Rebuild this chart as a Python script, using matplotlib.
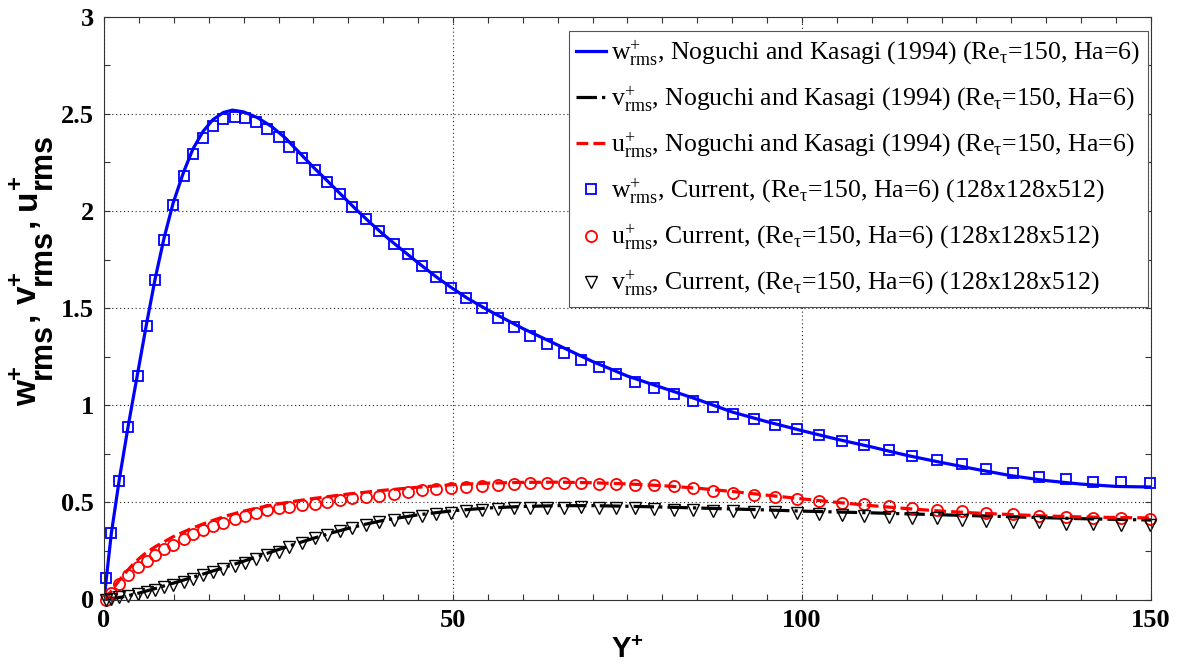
import matplotlib
matplotlib.use('Agg')
import matplotlib.pyplot as plt
from matplotlib.ticker import FixedLocator, MultipleLocator
from matplotlib.font_manager import FontProperties

plt.rcParams['mathtext.fontset'] = 'custom'
plt.rcParams['mathtext.rm'] = 'Liberation Serif'
plt.rcParams['mathtext.it'] = 'Liberation Serif:italic'
plt.rcParams['mathtext.bf'] = 'Liberation Serif:bold'

# ---------------- Noguchi and Kasagi (1994) reference profiles ----------------
nk_w_y = [0, 1.05, 2.2, 3.5, 4.8, 6.1, 7.35, 8.6, 9.9, 11.4, 12.75, 14.2, 15.6, 17.1,
          18.4, 20, 22, 24, 26, 28, 30, 32, 34, 36, 38, 40, 42, 44, 46, 48, 50, 52,
          55, 60, 65, 70, 75, 80, 85, 90, 95, 100, 105, 110, 115, 120, 125, 130,
          135, 140, 145, 150]
nk_w = [0, 0.34, 0.62, 0.90, 1.16, 1.42, 1.655, 1.86, 2.04, 2.20, 2.32, 2.41, 2.47,
        2.507, 2.519, 2.51, 2.48, 2.435, 2.375, 2.30, 2.225, 2.155, 2.083, 2.012,
        1.944, 1.88, 1.82, 1.762, 1.705, 1.65, 1.60, 1.552, 1.49, 1.395, 1.31,
        1.225, 1.15, 1.09, 1.03, 0.965, 0.915, 0.869, 0.825, 0.785, 0.742, 0.705,
        0.67, 0.637, 0.612, 0.594, 0.582, 0.579]

nk_v_y = [0, 2.5, 5, 7.5, 10, 12.5, 15, 17.5, 20, 22.5, 25, 27.5, 30, 32.5, 35, 37.5,
          40, 45, 50, 55, 60, 65, 70, 75, 80, 85, 90, 95, 100, 110, 120, 130, 140, 150]
nk_v = [0, 0.012, 0.033, 0.058, 0.085, 0.112, 0.14, 0.168, 0.197, 0.227, 0.257,
        0.287, 0.315, 0.342, 0.366, 0.388, 0.407, 0.436, 0.457, 0.471, 0.479, 0.483,
        0.483, 0.480, 0.476, 0.471, 0.466, 0.461, 0.455, 0.446, 0.436, 0.426, 0.416,
        0.409]

nk_u_y = [0, 1, 2, 3, 4, 5, 6, 7.5, 10, 12.5, 15, 17.5, 20, 22.5, 25, 27.5, 30, 35,
          40, 45, 50, 55, 60, 65, 70, 75, 80, 85, 90, 95, 100, 105, 110, 115, 120,
          125, 130, 135, 140, 145, 150]
nk_u = [0, 0.04, 0.09, 0.135, 0.175, 0.21, 0.24, 0.275, 0.325, 0.365, 0.40, 0.43,
        0.455, 0.475, 0.492, 0.507, 0.52, 0.543, 0.562, 0.578, 0.591, 0.599, 0.603,
        0.604, 0.601, 0.595, 0.586, 0.573, 0.556, 0.537, 0.518, 0.50, 0.483, 0.468,
        0.455, 0.445, 0.437, 0.43, 0.425, 0.422, 0.42]

# ---------------- Current simulation (128x128x512) ----------------
cur_y = [0.25, 1.05, 2.2, 3.5, 4.8, 6.1, 7.35, 8.6, 9.9, 11.4, 12.75, 14.2, 15.6, 17.1,
         18.7, 20.2, 21.8, 23.4, 25.0, 26.5, 28.4, 30.2, 32.0, 33.8, 35.6, 37.5, 39.4,
         41.5, 43.5, 45.5, 47.6, 49.7, 51.9, 54.1, 56.4, 58.7, 61.0, 63.4, 65.9, 68.3,
         70.9, 73.4, 76.1, 78.8, 81.6, 84.4, 87.2, 90.1, 93.1, 96.2, 99.3, 102.4,
         105.7, 108.9, 112.4, 115.8, 119.3, 122.9, 126.4, 130.2, 133.9, 137.8, 141.7,
         145.7, 149.9]
cur_w = [0.11, 0.34, 0.61, 0.887, 1.153, 1.408, 1.646, 1.852, 2.030, 2.181, 2.295,
         2.377, 2.439, 2.472, 2.486, 2.477, 2.457, 2.422, 2.380, 2.331, 2.271, 2.212,
         2.151, 2.086, 2.022, 1.957, 1.896, 1.832, 1.776, 1.717, 1.658, 1.604, 1.550,
         1.498, 1.449, 1.401, 1.356, 1.315, 1.269, 1.233, 1.197, 1.159, 1.122, 1.087,
         1.057, 1.022, 0.993, 0.957, 0.927, 0.900, 0.876, 0.847, 0.818, 0.793, 0.769,
         0.738, 0.719, 0.696, 0.673, 0.653, 0.633, 0.619, 0.605, 0.604, 0.600]
cur_u = [0.0, 0.035, 0.08, 0.125, 0.165, 0.20, 0.23, 0.258, 0.283, 0.31, 0.335, 0.357,
         0.377, 0.396, 0.415, 0.432, 0.447, 0.46, 0.47, 0.475, 0.485, 0.494, 0.503,
         0.512, 0.522, 0.528, 0.535, 0.545, 0.552, 0.563, 0.569, 0.572, 0.580, 0.586,
         0.591, 0.597, 0.598, 0.600, 0.599, 0.598, 0.597, 0.593, 0.590, 0.587, 0.582,
         0.573, 0.557, 0.548, 0.540, 0.529, 0.518, 0.508, 0.499, 0.490, 0.480, 0.470,
         0.461, 0.454, 0.447, 0.440, 0.432, 0.426, 0.422, 0.417, 0.412]
cur_v = [0.0, 0.005, 0.012, 0.02, 0.03, 0.04, 0.05, 0.062, 0.075, 0.092, 0.105, 0.125,
         0.143, 0.158, 0.172, 0.19, 0.209, 0.227, 0.245, 0.27, 0.292, 0.315, 0.334,
         0.353, 0.370, 0.384, 0.398, 0.410, 0.421, 0.432, 0.439, 0.444, 0.456, 0.462,
         0.466, 0.469, 0.473, 0.473, 0.473, 0.476, 0.473, 0.469, 0.469, 0.466, 0.462,
         0.459, 0.457, 0.457, 0.452, 0.448, 0.445, 0.442, 0.435, 0.431, 0.423, 0.421,
         0.418, 0.411, 0.404, 0.400, 0.397, 0.390, 0.387, 0.383, 0.383]

x_ticks = [0, 50, 100, 150]
x_ticklabels = ['0', '50', '100', '150']
y_ticks = [0, 0.5, 1, 1.5, 2, 2.5, 3]
y_ticklabels = ['0', '0.5', '1', '1.5', '2', '2.5', '3']

labels = [
    r'$\mathregular{w^{+}_{rms}}$, Noguchi and Kasagi (1994) (Re$_{\mathregular{\tau}}$=150, Ha=6)',
    r'$\mathregular{v^{+}_{rms}}$, Noguchi and Kasagi (1994) (Re$_{\mathregular{\tau}}$=150, Ha=6)',
    r'$\mathregular{u^{+}_{rms}}$, Noguchi and Kasagi (1994) (Re$_{\mathregular{\tau}}$=150, Ha=6)',
    r'$\mathregular{w^{+}_{rms}}$, Current, (Re$_{\mathregular{\tau}}$=150, Ha=6) (128x128x512)',
    r'$\mathregular{u^{+}_{rms}}$, Current, (Re$_{\mathregular{\tau}}$=150, Ha=6) (128x128x512)',
    r'$\mathregular{v^{+}_{rms}}$, Current, (Re$_{\mathregular{\tau}}$=150, Ha=6) (128x128x512)',
]
ylabel_letters = ['w', 'v', 'u']
ylabel_sup = '+'
ylabel_sub = 'rms'

W, H = 1180, 670
fig = plt.figure(figsize=(W / 100, H / 100), dpi=100)
ax = fig.add_axes([104 / W, 1 - 599.5 / H, (1151 - 104) / W, (599.5 - 16.7) / H])

lw = 2.3
ax.plot(nk_w_y, nk_w, '-', color='#0000ff', lw=lw, label=labels[0])
ax.plot(nk_v_y, nk_v, '-.', color='k', lw=lw, label=labels[1])
ax.plot(nk_u_y, nk_u, '--', color='#ff0000', lw=lw, label=labels[2])
ax.plot(cur_y, cur_w, 's', mfc='none', mec='#0000ff', ms=7, mew=1.3, clip_on=False,
        label=labels[3])
ax.plot(cur_y, cur_u, 'o', mfc='none', mec='#ff0000', ms=8, mew=1.3, clip_on=False,
        label=labels[4])
ax.plot(cur_y, cur_v, 'v', mfc='none', mec='k', ms=8, mew=1.0, clip_on=False,
        label=labels[5])

ax.set_xlim(0, 150)
ax.set_ylim(0, 3)
ax.xaxis.set_major_locator(FixedLocator(x_ticks))
ax.yaxis.set_major_locator(FixedLocator(y_ticks))
ax.set_xticklabels(x_ticklabels)
ax.set_yticklabels(y_ticklabels)
ax.xaxis.set_minor_locator(MultipleLocator(5))
ax.yaxis.set_minor_locator(MultipleLocator(0.25))
ax.tick_params(which='both', direction='in', top=True, right=True, length=4,
               width=0.8, color='#333333')
ax.tick_params(which='major', pad=7)
for lab in ax.get_xticklabels() + ax.get_yticklabels():
    lab.set_fontfamily('Liberation Serif')
    lab.set_fontweight('bold')
    lab.set_fontsize(19)
for s in ax.spines.values():
    s.set_color('#333333')
    s.set_linewidth(0.8)

ax.grid(True, which='major', linestyle=(0, (1, 2.5)), color='#222222', lw=0.8)
ax.set_axisbelow(True)

ax.set_xlabel(r'Y$^{\mathregular{+}}$', fontfamily='Liberation Sans', fontweight='bold',
              fontsize=21, labelpad=3)

# ---- y label built from pieces so that the "rms" subscript keeps a large size ----
renderer = fig.canvas.get_renderer()
F_main, F_sub, F_sup = 24, 22, 17


def fp(size):
    return FontProperties(family='Liberation Sans', weight='bold', size=size)


def text_w(s, size):
    w, h, d = renderer.get_text_width_height_descent(s, fp(size), ismath=False)
    return w


def put(s, x_px, y_px, size):
    fig.text(x_px / W, 1 - y_px / H, s, rotation=90, rotation_mode='anchor',
             ha='left', va='baseline', fontproperties=fp(size), color='k')


x_main, x_sub, x_sup = 36, 51, 22
y_cur = 406
for i, letter in enumerate(ylabel_letters):
    put(letter, x_main, y_cur, F_main)
    y_cur -= text_w(letter, F_main) + 1
    put(ylabel_sup, x_sup, y_cur, F_sup)
    put(ylabel_sub, x_sub, y_cur, F_sub)
    y_cur -= max(text_w(ylabel_sub, F_sub), text_w(ylabel_sup, F_sup))
    if i < len(ylabel_letters) - 1:
        put(', ', x_main, y_cur, F_main)
        y_cur -= text_w(', ', F_main)

leg = ax.legend(loc='upper right', bbox_to_anchor=(1148 / W, 1 - 31 / H),
                bbox_transform=fig.transFigure, borderaxespad=0,
                prop={'family': 'Liberation Serif', 'size': 18.5},
                fancybox=False, framealpha=1, edgecolor='#555555',
                handlelength=1.15, handletextpad=0.2, labelspacing=0.62,
                borderpad=0.3)
leg.get_frame().set_linewidth(0.8)

fig.savefig('out.png', dpi=100)
